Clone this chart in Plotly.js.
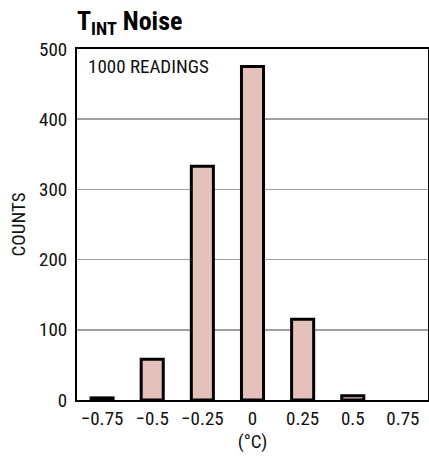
<!DOCTYPE html>
<html><head><meta charset="utf-8">
<script src="https://cdn.plot.ly/plotly-3.0.1.min.js"></script>
<style>html,body{margin:0;padding:0;background:#fff;}#chart{width:429px;height:456px;}</style>
</head><body><div id="chart"></div>
<script>
const categories = ["−0.75", "−0.5", "−0.25", "0", "0.25", "0.5", "0.75"];
const counts = [3, 58, 333, 475, 115, 6, 0];
const yTicks = [0, 100, 200, 300, 400, 500];

const FONT = "'Liberation Sans Narrow', 'Arial Narrow', 'Roboto Condensed', 'Liberation Sans', sans-serif";

const trace = {
  type: 'bar',
  x: categories,
  y: counts,
  width: 0.44,
  marker: {color: '#e5c1bc', line: {color: '#000', width: counts.map(v => v > 0 ? 3 : 0)}},
  hoverinfo: 'none'
};

const layout = {
  width: 429, height: 456,
  margin: {l: 77, r: 1, t: 49, b: 56},
  paper_bgcolor: '#fff', plot_bgcolor: '#fff',
  font: {family: FONT, size: 19, color: '#111'},
  showlegend: false,
  title: {text: 'T<sub>INT</sub> Noise', x: 0, xanchor: 'left', xref: 'paper', y: 0.955, yanchor: 'middle',
          font: {family: FONT, size: 26, color: '#000', weight: 'bold'}},
  xaxis: {
    type: 'category', range: [-0.5, 6.5],
    showline: true, linecolor: '#000', linewidth: 2, mirror: true,
    showgrid: false, ticks: '', tickfont: {size: 19}, ticklabelstandoff: 0,
    title: {text: '(°C)', font: {size: 19}, standoff: 0},
    fixedrange: true
  },
  yaxis: {
    range: [0, 500], tickvals: yTicks,
    showline: true, linecolor: '#000', linewidth: 2, mirror: true,
    showgrid: true, gridcolor: '#a0a0a0', gridwidth: 1.5,
    zeroline: false, ticks: '', tickfont: {size: 19}, ticklabelstandoff: 4,
    title: {text: 'COUNTS', font: {size: 19}, standoff: 8},
    fixedrange: true
  },
  annotations: [{
    text: '1000 READINGS', xref: 'paper', yref: 'paper', x: 0.025, y: 0.99,
    xanchor: 'left', yanchor: 'top', showarrow: false, font: {size: 19, color: '#111'}
  }]
};

Plotly.newPlot('chart', [trace], layout, {displayModeBar: false, staticPlot: true});
</script></body></html>
